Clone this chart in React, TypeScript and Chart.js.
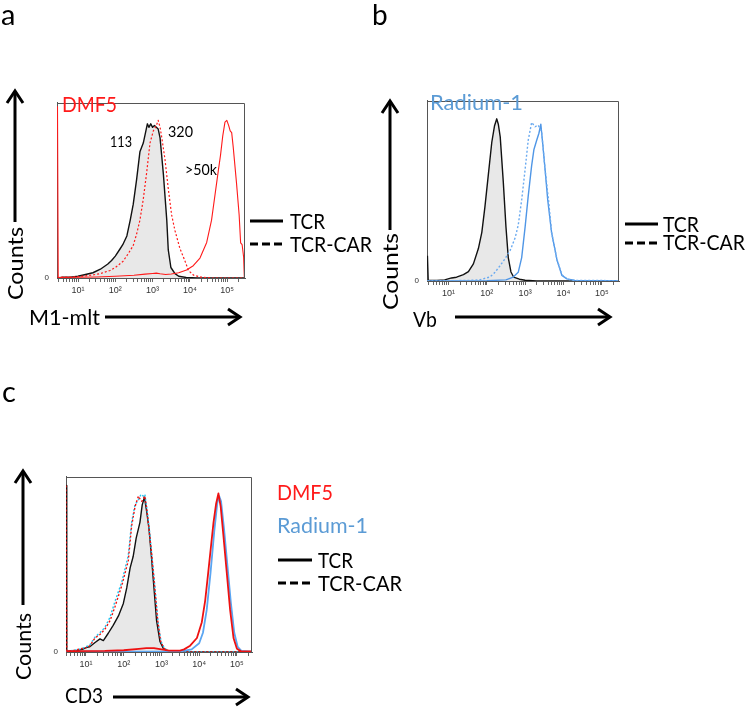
import React, { useEffect, useRef } from 'react';
import { Chart, registerables } from 'chart.js';
Chart.register(...registerables);

type Pt = [number, number];

// x = log10(fluorescence), y = counts (% of plot height)
// Panel a – M1-mlt, DMF5
const aTcrBlack: Pt[] = [[0.45,0],[0.6,0.5],[0.8,0.5],[1.0,1],[1.2,2],[1.4,3],[1.6,5],[1.8,8],[1.9,10],[2.0,12.5],[2.13,16.7],[2.2,19],[2.31,24],[2.4,33],[2.48,42],[2.57,56],[2.66,72],[2.75,77],[2.82,84],[2.86,88],[2.9,86],[2.95,88],[3.0,86],[3.05,87],[3.1,86],[3.15,85],[3.2,80],[3.29,59],[3.38,33],[3.42,16],[3.49,6],[3.6,2.5],[3.7,1],[3.9,0.3],[4.2,0],[5.5,0]];
const aTcrCarRed: Pt[] = [[0.45,0],[0.5,0.5],[0.8,0.5],[1.0,0.8],[1.2,1.2],[1.4,1.8],[1.6,2.5],[1.86,4.3],[2.0,6],[2.21,9.6],[2.35,14],[2.48,18.5],[2.57,25],[2.66,33],[2.75,45],[2.84,60],[2.93,77],[3.02,84],[3.1,87],[3.15,90],[3.2,86],[3.24,81],[3.33,68],[3.42,51],[3.51,36],[3.6,27],[3.73,17],[3.87,9.6],[3.96,4.3],[4.1,1.6],[4.3,0.5],[4.6,0],[5.5,0]];
const aTcrRed: Pt[] = [[0.45,98],[0.47,0.3],[1.0,0.4],[1.5,0.6],[2.0,1],[2.5,1.6],[2.8,2.2],[3.0,2.6],[3.1,2.8],[3.2,2.4],[3.35,2],[3.5,2.3],[3.7,3],[3.91,4.6],[4.09,7],[4.27,11.4],[4.45,20.3],[4.58,33],[4.67,47],[4.76,61],[4.82,70],[4.88,81],[4.94,89],[4.99,90],[5.04,87],[5.08,84],[5.12,83],[5.16,75],[5.25,54],[5.32,36],[5.36,20],[5.4,19],[5.44,12],[5.46,0],[5.5,0]];

// Panel b – Vb, Radium-1
const bTcrBlack: Pt[] = [[0.45,14],[0.47,0.5],[0.7,0.3],[0.9,0.6],[1.08,1.7],[1.21,2.1],[1.39,3.5],[1.52,5.2],[1.65,9.5],[1.78,18],[1.87,27],[1.95,41],[2.04,59],[2.13,77],[2.2,86],[2.26,90],[2.3,87],[2.35,80],[2.43,55],[2.5,30],[2.56,13],[2.63,5],[2.7,2.2],[2.85,1],[3.0,0.4],[3.3,0],[5.5,0]];
const bTcrBlue: Pt[] = [[0.45,0],[2.0,0.2],[2.5,0.6],[2.69,2.2],[2.82,4.8],[2.91,13],[3.0,30],[3.08,47],[3.17,64],[3.23,73],[3.3,78],[3.36,82],[3.41,87],[3.46,76],[3.52,62],[3.59,45],[3.69,27],[3.83,11.8],[3.96,3.1],[4.09,1.2],[4.3,0.3],[5.5,0.2]];
const bTcrCarBlue: Pt[] = [[0.45,0],[1.5,0.3],[1.8,0.6],[2.08,2.2],[2.2,4.5],[2.34,8.3],[2.48,12.5],[2.61,17],[2.74,24],[2.82,31],[2.91,45],[3.0,62],[3.08,78],[3.17,88],[3.26,85.6],[3.34,86.5],[3.43,83],[3.52,62],[3.61,45],[3.69,27],[3.83,12],[3.96,3.5],[4.1,1],[4.3,0.3],[5.5,0.2]];

// Panel c – CD3, DMF5 and Radium-1
const cTcrBlack: Pt[] = [[0.47,95],[0.49,0.5],[0.7,0.5],[0.9,1.5],[1.02,2.7],[1.1,3],[1.24,5.4],[1.37,7.5],[1.46,6.5],[1.59,10.7],[1.72,15.2],[1.86,20.6],[1.99,27.7],[2.08,36.6],[2.17,48],[2.25,54.5],[2.33,65],[2.43,74],[2.49,84],[2.55,88.4],[2.61,80],[2.67,70.5],[2.74,53],[2.8,37],[2.87,18],[2.96,6],[3.05,2],[3.14,0.9],[3.3,0.3],[3.5,0],[5.5,0]];
const cTcrCarRed: Pt[] = [[0.47,95],[0.49,0.5],[0.7,1],[0.9,2],[1.0,2.5],[1.1,3.5],[1.24,8],[1.37,10],[1.5,13],[1.64,18],[1.77,26],[1.95,38],[2.12,52],[2.21,72],[2.3,83],[2.39,89],[2.44,87],[2.48,86],[2.56,89],[2.61,82],[2.65,74],[2.74,56],[2.83,35],[2.9,18],[2.98,6],[3.07,2],[3.2,0.5],[3.5,0],[5.5,0]];
const cTcrCarBlue: Pt[] = [[0.49,0.5],[0.7,1],[0.9,2],[1.0,3],[1.1,4],[1.24,8.5],[1.37,11],[1.5,14],[1.64,20],[1.77,29],[1.95,40],[2.12,55],[2.21,74],[2.3,84],[2.39,87],[2.46,90],[2.52,89],[2.56,90],[2.62,81],[2.67,72],[2.75,54],[2.84,34],[2.91,17],[2.99,6],[3.08,2],[3.2,0.5],[3.5,0],[5.5,0]];
const cTcrRed: Pt[] = [[0.49,0.5],[1.5,0.6],[2.0,1],[2.4,1.8],[2.6,2.2],[2.8,2.2],[3.0,1.5],[3.2,0.8],[3.49,0.8],[3.6,1.5],[3.76,3.6],[3.94,8],[4.07,17],[4.16,29.5],[4.24,45.5],[4.31,59.8],[4.38,74],[4.45,84.8],[4.51,90.5],[4.57,83],[4.64,67],[4.73,45.5],[4.82,24],[4.91,8],[5.0,1.8],[5.1,0.5],[5.4,0.3]];
const cTcrBlue: Pt[] = [[0.49,0.2],[3.5,0.3],[3.8,1.5],[4.0,5],[4.1,11],[4.2,24],[4.3,45],[4.4,69],[4.48,85],[4.53,89],[4.58,86],[4.66,70],[4.75,49],[4.84,28],[4.93,11],[5.02,3],[5.12,0.7],[5.4,0.2]];

// Axis ticks
const decades = [1, 2, 3, 4, 5];
const decadeLabels = ['10¹', '10²', '10³', '10⁴', '10⁵'];
const minorMultipliers = [1, 2, 3, 4, 5, 6, 7, 8, 9];
const yTickLabels = ['0'];

const RED = '#ff1a1a';
const BLUE = '#5b9bd5';

interface Series { data: Pt[]; color: string; width: number; dash?: number[]; fill?: boolean }

const boxPlugin = {
  id: 'boxBorder',
  afterDraw(chart: any) {
    const { ctx, chartArea } = chart;
    const { left, top, right, bottom } = chartArea;
    ctx.save();
    ctx.strokeStyle = '#555';
    ctx.lineWidth = 1;
    ctx.beginPath();
    ctx.moveTo(left, Math.round(top) + 0.5);
    ctx.lineTo(Math.round(right) - 0.5, Math.round(top) + 0.5);
    ctx.lineTo(Math.round(right) - 0.5, bottom);
    ctx.stroke();
    ctx.restore();
  },
};

const AXIS_W = 22;
const AXIS_H = 24;
const PAD_T = 1;
const PAD_R = 3;

function HistChart(props: { boxL: number; boxT: number; boxW: number; boxH: number; xMin: number; xMax: number; series: Series[] }) {
  const { boxL, boxT, boxW, boxH, xMin, xMax, series } = props;
  const ref = useRef<HTMLCanvasElement>(null);
  const width = AXIS_W + boxW + PAD_R;
  const height = PAD_T + boxH + AXIS_H;
  useEffect(() => {
    if (!ref.current) return;
    const tickVals: number[] = [];
    for (let d = 0; d <= 5; d++) {
      for (const m of minorMultipliers) {
        const v = d + Math.log10(m);
        if (v >= xMin && v <= xMax) tickVals.push(v);
      }
    }
    const chart = new Chart(ref.current, {
      type: 'line',
      data: {
        datasets: series.map((s) => ({
          data: s.data.map(([x, y]) => ({ x, y })),
          borderColor: s.color,
          borderWidth: s.width,
          borderDash: s.dash || [],
          pointRadius: 0,
          tension: 0,
          borderJoinStyle: 'round' as const,
          fill: s.fill ? 'origin' : false,
          backgroundColor: s.fill ? '#e8e8e8' : 'rgba(0,0,0,0)',
        })),
      },
      options: {
        responsive: false,
        animation: false,
        layout: { padding: { top: PAD_T, right: PAD_R, left: 0, bottom: 0 } },
        plugins: {
          legend: { display: false },
          tooltip: { enabled: false },
          filler: { drawTime: 'beforeDatasetsDraw' },
        } as any,
        scales: {
          x: {
            type: 'linear',
            min: xMin,
            max: xMax,
            afterFit: (s: any) => { s.height = AXIS_H; },
            afterBuildTicks: (s: any) => { s.ticks = tickVals.map((v) => ({ value: v })); },
            ticks: {
              autoSkip: false,
              maxRotation: 0,
              minRotation: 0,
              padding: 3,
              color: '#333',
              font: { size: 9, family: 'Liberation Sans' },
              callback: (v: any) => {
                const i = decades.findIndex((d) => Math.abs(d - Number(v)) < 1e-6);
                return i >= 0 ? decadeLabels[i] : '';
              },
            },
            grid: { drawOnChartArea: false, drawTicks: true, tickLength: 4, tickColor: '#666', tickWidth: 1 },
            border: { display: true, color: '#555', width: 1 },
          },
          y: {
            min: 0,
            max: 100,
            afterFit: (s: any) => { s.width = AXIS_W; },
            afterBuildTicks: (s: any) => { s.ticks = [{ value: 0 }]; },
            ticks: {
              padding: 8,
              color: '#333',
              font: { size: 8, family: 'Liberation Sans' },
              callback: () => yTickLabels[0],
            },
            grid: { drawOnChartArea: false, drawTicks: false },
            border: { display: true, color: '#555', width: 1 },
          },
        },
      } as any,
      plugins: [boxPlugin],
    });
    return () => chart.destroy();
  }, []);
  return (
    <canvas
      ref={ref}
      width={width}
      height={height}
      style={{ position: 'absolute', left: boxL - AXIS_W, top: boxT - PAD_T, width, height, display: 'block' }}
    />
  );
}

function UpArrow({ x, y1, y2 }: { x: number; y1: number; y2: number }) {
  return (
    <g stroke="#000" strokeWidth={3} fill="none">
      <line x1={x} y1={y1} x2={x} y2={y2 + 1} />
      <polyline points={`${x - 8},${y2 + 13} ${x},${y2 + 1} ${x + 8},${y2 + 13}`} />
    </g>
  );
}
function RightArrow({ x1, x2, y }: { x1: number; x2: number; y: number }) {
  return (
    <g stroke="#000" strokeWidth={3} fill="none">
      <line x1={x1} y1={y} x2={x2 - 1} y2={y} />
      <polyline points={`${x2 - 13},${y - 8} ${x2 - 1},${y} ${x2 - 13},${y + 8}`} />
    </g>
  );
}
function LegendLines({ x1, x2, ySolid, yDash }: { x1: number; x2: number; ySolid: number; yDash: number }) {
  return (
    <g stroke="#000" strokeWidth={3}>
      <line x1={x1} y1={ySolid} x2={x2} y2={ySolid} />
      <line x1={x1} y1={yDash} x2={x2} y2={yDash} strokeDasharray="8 4" />
    </g>
  );
}

const F = 'Lato, "Open Sans", sans-serif';

export default function App() {
  return (
    <div style={{ position: 'absolute', left: 0, top: 0, width: 750, height: 707, background: '#fff', overflow: 'hidden' }}>
      <HistChart
        boxL={57} boxT={91} boxW={188} boxH={187} xMin={0.437} xMax={5.477}
        series={[
          { data: aTcrCarRed, color: RED, width: 1.2, dash: [2, 2] },
          { data: aTcrRed, color: RED, width: 1.1 },
          { data: aTcrBlack, color: '#111', width: 1.4, fill: true },
        ]}
      />
      <HistChart
        boxL={427} boxT={89} boxW={192} boxH={192} xMin={0.439} xMax={5.45}
        series={[
          { data: bTcrCarBlue, color: '#6aaaf0', width: 1.4, dash: [2, 2] },
          { data: bTcrBlue, color: '#4f96e6', width: 1.4 },
          { data: bTcrBlack, color: '#111', width: 1.4, fill: true },
        ]}
      />
      <HistChart
        boxL={66} boxT={465} boxW={186} boxH={187} xMin={0.47} xMax={5.4}
        series={[
          { data: cTcrRed, color: '#ee1111', width: 1.8 },
          { data: cTcrBlue, color: '#5aa5f2', width: 1.8 },
          { data: cTcrCarRed, color: '#ee1111', width: 1.4, dash: [2, 2] },
          { data: cTcrCarBlue, color: '#22c4f0', width: 1.4, dash: [2, 2] },
          { data: cTcrBlack, color: '#111', width: 1.4, fill: true },
        ]}
      />
      <svg width={750} height={707} style={{ position: 'absolute', left: 0, top: 0, pointerEvents: 'none' }} fontFamily={F}>
        {/* panel letters */}
        <text x={1} y={25} fontSize={29}>a</text>
        <text x={372} y={25} fontSize={28}>b</text>
        <text x={2} y={402} fontSize={29}>c</text>

        {/* panel a */}
        <text x={62} y={112} fontSize={21} fill={RED} textLength={55} lengthAdjust="spacingAndGlyphs">DMF5</text>
        <text x={110} y={147} fontSize={15} textLength={22} lengthAdjust="spacingAndGlyphs">113</text>
        <text x={168} y={137} fontSize={15} textLength={25} lengthAdjust="spacingAndGlyphs">320</text>
        <text x={185} y={175} fontSize={15} textLength={32} lengthAdjust="spacingAndGlyphs">&gt;50k</text>
        <text transform="translate(23,300) rotate(-90)" fontSize={21} textLength={73} lengthAdjust="spacingAndGlyphs">Counts</text>
        <UpArrow x={15} y1={222} y2={90} />
        <text x={29} y={325} fontSize={21} textLength={71} lengthAdjust="spacingAndGlyphs">M1-mlt</text>
        <RightArrow x1={105} x2={241} y={317} />
        <LegendLines x1={250} x2={283} ySolid={221} yDash={244} />
        <text x={290} y={229} fontSize={21} textLength={35} lengthAdjust="spacingAndGlyphs">TCR</text>
        <text x={290} y={252} fontSize={21} textLength={82} lengthAdjust="spacingAndGlyphs">TCR-CAR</text>

        {/* panel b */}
        <text x={430} y={110} fontSize={21} fill={BLUE} textLength={93} lengthAdjust="spacingAndGlyphs">Radium-1</text>
        <text transform="translate(398,310) rotate(-90)" fontSize={21} textLength={77} lengthAdjust="spacingAndGlyphs">Counts</text>
        <UpArrow x={390} y1={230} y2={100} />
        <text x={413} y={327} fontSize={21} textLength={24} lengthAdjust="spacingAndGlyphs">Vb</text>
        <RightArrow x1={455} x2={611} y={317} />
        <LegendLines x1={625} x2={658} ySolid={224} yDash={243} />
        <text x={663} y={232} fontSize={21} textLength={36} lengthAdjust="spacingAndGlyphs">TCR</text>
        <text x={663} y={250} fontSize={21} textLength={82} lengthAdjust="spacingAndGlyphs">TCR-CAR</text>

        {/* panel c */}
        <text transform="translate(31,680) rotate(-90)" fontSize={21} textLength={67} lengthAdjust="spacingAndGlyphs">Counts</text>
        <UpArrow x={23} y1={605} y2={470} />
        <text x={65} y={703} fontSize={21} textLength={38} lengthAdjust="spacingAndGlyphs">CD3</text>
        <RightArrow x1={113} x2={249} y={697} />
        <text x={277} y={500} fontSize={21} fill={RED} textLength={56} lengthAdjust="spacingAndGlyphs">DMF5</text>
        <text x={277} y={533} fontSize={21} fill={BLUE} textLength={91} lengthAdjust="spacingAndGlyphs">Radium-1</text>
        <LegendLines x1={278} x2={312} ySolid={560} yDash={583} />
        <text x={318} y={568} fontSize={21} textLength={35} lengthAdjust="spacingAndGlyphs">TCR</text>
        <text x={318} y={591} fontSize={21} textLength={84} lengthAdjust="spacingAndGlyphs">TCR-CAR</text>
      </svg>
    </div>
  );
}
